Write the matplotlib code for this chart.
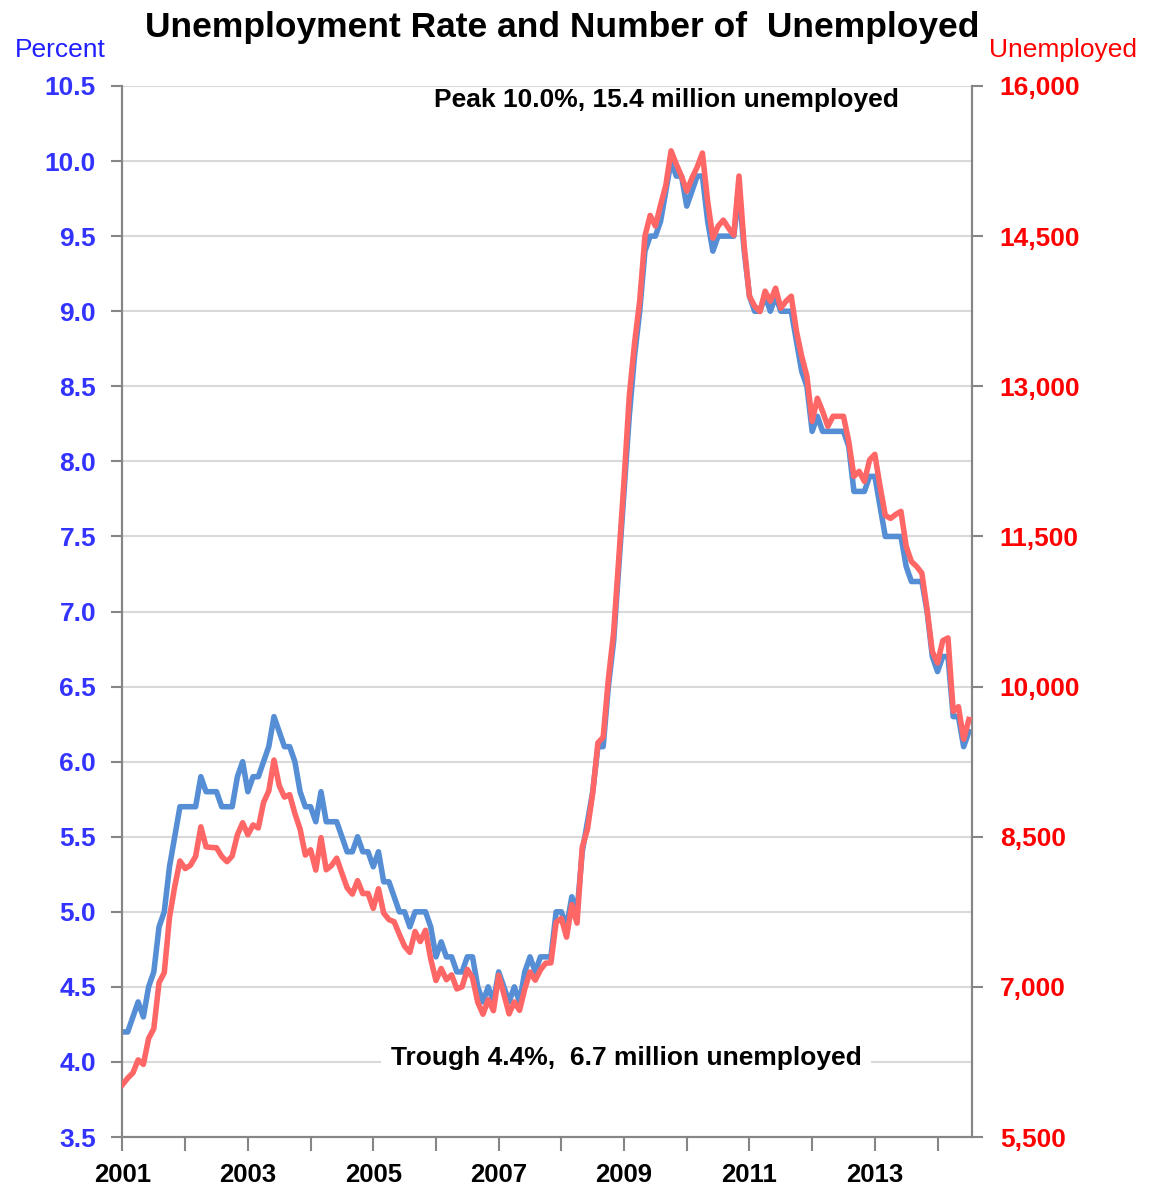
import numpy as np
import matplotlib.pyplot as plt
from matplotlib.ticker import FuncFormatter

plt.rcParams['font.family'] = ['Liberation Sans Narrow', 'Liberation Sans', 'DejaVu Sans']

# monthly data, Jan 2001 - Jul 2014
rate = [
    4.2, 4.2, 4.3, 4.4, 4.3, 4.5, 4.6, 4.9, 5.0, 5.3, 5.5, 5.7,  # 2001
    5.7, 5.7, 5.7, 5.9, 5.8, 5.8, 5.8, 5.7, 5.7, 5.7, 5.9, 6.0,  # 2002
    5.8, 5.9, 5.9, 6.0, 6.1, 6.3, 6.2, 6.1, 6.1, 6.0, 5.8, 5.7,  # 2003
    5.7, 5.6, 5.8, 5.6, 5.6, 5.6, 5.5, 5.4, 5.4, 5.5, 5.4, 5.4,  # 2004
    5.3, 5.4, 5.2, 5.2, 5.1, 5.0, 5.0, 4.9, 5.0, 5.0, 5.0, 4.9,  # 2005
    4.7, 4.8, 4.7, 4.7, 4.6, 4.6, 4.7, 4.7, 4.5, 4.4, 4.5, 4.4,  # 2006
    4.6, 4.5, 4.4, 4.5, 4.4, 4.6, 4.7, 4.6, 4.7, 4.7, 4.7, 5.0,  # 2007
    5.0, 4.9, 5.1, 5.0, 5.4, 5.6, 5.8, 6.1, 6.1, 6.5, 6.8, 7.3,  # 2008
    7.8, 8.3, 8.7, 9.0, 9.4, 9.5, 9.5, 9.6, 9.8, 10.0, 9.9, 9.9,  # 2009
    9.7, 9.8, 9.9, 9.9, 9.6, 9.4, 9.5, 9.5, 9.5, 9.5, 9.8, 9.4,  # 2010
    9.1, 9.0, 9.0, 9.1, 9.0, 9.1, 9.0, 9.0, 9.0, 8.8, 8.6, 8.5,  # 2011
    8.2, 8.3, 8.2, 8.2, 8.2, 8.2, 8.2, 8.1, 7.8, 7.8, 7.8, 7.9,  # 2012
    7.9, 7.7, 7.5, 7.5, 7.5, 7.5, 7.3, 7.2, 7.2, 7.2, 7.0, 6.7,  # 2013
    6.6, 6.7, 6.7, 6.3, 6.3, 6.1, 6.2,                           # 2014
]

# thousands
unemployed = [
    6023, 6089, 6141, 6271, 6226, 6484, 6583, 7042, 7142, 7694, 8003, 8258,
    8182, 8215, 8304, 8599, 8399, 8393, 8390, 8304, 8251, 8307, 8520, 8640,
    8520, 8618, 8588, 8842, 8957, 9266, 9011, 8896, 8921, 8732, 8576, 8317,
    8370, 8167, 8491, 8170, 8212, 8286, 8136, 7990, 7927, 8061, 7932, 7934,
    7784, 7980, 7737, 7672, 7651, 7524, 7406, 7345, 7553, 7453, 7566, 7279,
    7064, 7184, 7072, 7120, 6980, 7001, 7175, 7091, 6847, 6727, 6872, 6762,
    7116, 6927, 6731, 6850, 6766, 6979, 7149, 7067, 7170, 7237, 7240, 7645,
    7685, 7497, 7822, 7637, 8395, 8575, 8937, 9438, 9494, 10074, 10538, 11286,
    12058, 12898, 13426, 13853, 14499, 14707, 14601, 14814, 15009, 15352, 15219, 15098,
    14950, 15080, 15190, 15330, 14850, 14480, 14600, 14660, 14580, 14510, 15100, 14400,
    13900, 13800, 13747, 13950, 13850, 13980, 13780, 13850, 13900, 13550, 13300, 13100,
    12650, 12880, 12750, 12600, 12700, 12700, 12700, 12450, 12100, 12150, 12050, 12265,
    12320, 12000, 11710, 11680, 11720, 11750, 11400, 11250, 11200, 11133, 10770, 10350,
    10236, 10459, 10486, 9753, 9799, 9474, 9671,
]

years = list(range(2001, 2015))
year_labels = [str(y) if (y - 2001) % 2 == 0 else '' for y in years]

blue_txt = '#3333ff'
red_txt = '#ff0000'
axis_gray = '#868686'

fig = plt.figure(figsize=(11.51, 11.91), dpi=100)
ax = fig.add_axes([0.1064, 0.0453, 0.7381, 0.8825])
ax2 = ax.twinx()

x = np.arange(len(rate))
ax.plot(x, rate, color='#558ed5', lw=4, solid_joinstyle='round', zorder=3)
ax2.plot(x, unemployed, color='#ff6666', lw=4, solid_joinstyle='round', zorder=3)

ax.set_xlim(0, 162.6)
ax.set_ylim(3.5, 10.5)
ax2.set_ylim(5500, 16000)

ax.set_yticks(np.arange(3.5, 10.51, 0.5))
ax.yaxis.set_major_formatter(FuncFormatter(lambda v, p: f'{v:.1f}'))
ax2.set_yticks(np.arange(5500, 16001, 1500))
ax2.yaxis.set_major_formatter(FuncFormatter(lambda v, p: f'{int(v):,}'))

ax.set_xticks([12 * i for i in range(len(years))])
ax.set_xticklabels(year_labels)

ax.grid(axis='y', color='#d9d9d9', lw=1.5, zorder=0)
ax.set_axisbelow(True)

for a in (ax, ax2):
    a.spines['top'].set_visible(False)
    for s in ('left', 'right', 'bottom'):
        a.spines[s].set_color(axis_gray)
        a.spines[s].set_linewidth(1.5)

ax.tick_params(axis='y', colors=axis_gray, length=8, width=1.5, direction='out', pad=11,
               labelcolor=blue_txt, labelsize=19)
ax2.tick_params(axis='y', colors=axis_gray, length=8, width=1.5, direction='out', pad=12,
                labelcolor=red_txt, labelsize=19)
ax.tick_params(axis='x', colors=axis_gray, length=10, width=1.5, direction='out', pad=9,
               labelcolor='black', labelsize=18.5)
for lbl in ax.get_yticklabels() + ax2.get_yticklabels() + ax.get_xticklabels():
    lbl.set_fontweight('bold')

fig.text(0.488, 0.9765, 'Unemployment Rate and Number of  Unemployed', ha='center', va='center',
         fontsize=25.5, fontweight='bold')
fig.text(0.052, 0.958, 'Percent', ha='center', va='center', fontsize=19, color='#2020ff')
fig.text(0.9236, 0.958, 'Unemployed', ha='center', va='center', fontsize=19, color=red_txt)

ax.text(0.640, 0.9867, 'Peak 10.0%, 15.4 million unemployed', transform=ax.transAxes,
        ha='center', va='center', fontsize=19, fontweight='bold')
ax.text(0.593, 0.0752, 'Trough 4.4%,  6.7 million unemployed', transform=ax.transAxes,
        ha='center', va='center', fontsize=19, fontweight='bold',
        bbox=dict(facecolor='white', edgecolor='none', pad=7))

fig.savefig('out.png', dpi=100)
